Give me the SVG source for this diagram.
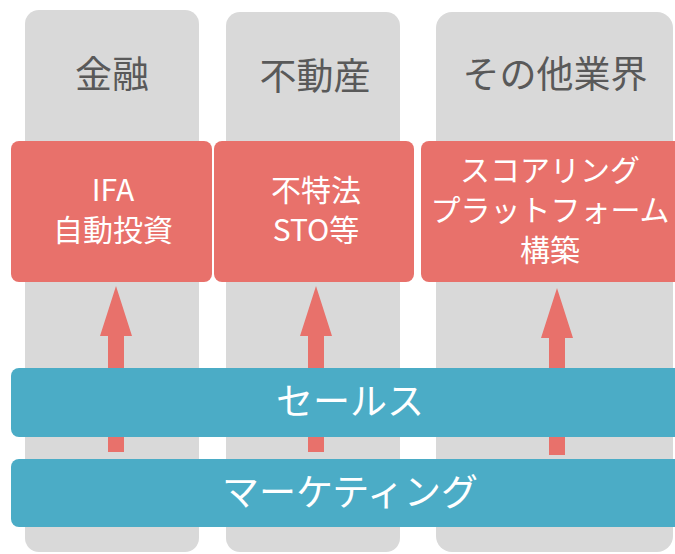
<svg xmlns="http://www.w3.org/2000/svg" width="675" height="554" viewBox="0 0 675 554">
<style>
.col{fill:#D9D9D9}
.red{fill:#E8716B}
.blue{fill:#4BACC6}
.arrow{fill:#E8716B}
.h{font-family:"Noto Sans CJK JP","Noto Sans",sans-serif;font-size:37px;fill:#595959;text-anchor:middle}
.t{font-family:"Noto Sans CJK JP","Noto Sans",sans-serif;font-size:30px;fill:#FFFFFF;text-anchor:middle}
.b{font-family:"Noto Sans CJK JP","Noto Sans",sans-serif;font-size:37px;fill:#FFFFFF;text-anchor:middle}
</style>
<rect width="675" height="554" fill="#FFFFFF"/>
<g id="col-finance"><rect class="col" x="25" y="10" width="174" height="542" rx="14"/><text class="h" x="112" y="88">金融</text></g>
<g id="col-realestate"><rect class="col" x="226" y="12" width="174" height="540" rx="14"/><text class="h" x="315" y="90">不動産</text></g>
<g id="col-other"><rect class="col" x="436" y="12" width="237" height="540" rx="16"/><text class="h" x="555" y="88">その他業界</text></g>
<g id="box-ifa"><rect class="red" x="11" y="141" width="201" height="141" rx="8"/><text class="t" x="113" y="201">IFA</text><text class="t" x="113" y="241">自動投資</text></g>
<g id="box-sto"><rect class="red" x="214" y="141" width="200" height="141" rx="8"/><text class="t" x="316" y="201">不特法</text><text class="t" x="316" y="241">STO等</text></g>
<g id="box-scoring"><rect class="red" x="421" y="141" width="270" height="141" rx="8"/><text class="t" x="550" y="181">スコアリング</text><text class="t" x="550" y="221">プラットフォーム</text><text class="t" x="550" y="261">構築</text></g>
<g id="connectors">
<path class="arrow" d="M116 286 L132 336 L124 336 L124 452 L108 452 L108 336 L100 336 Z"/>
<path class="arrow" d="M316 286 L332 336 L324 336 L324 452 L308 452 L308 336 L300 336 Z"/>
<path class="arrow" d="M557 288 L573 338 L565 338 L565 455 L549 455 L549 338 L541 338 Z"/>
</g>
<g id="bar-sales"><rect class="blue" x="11" y="368" width="680" height="69" rx="8"/><text class="b" x="350" y="415">セールス</text></g>
<g id="bar-marketing"><rect class="blue" x="11" y="459" width="680" height="68" rx="8"/><text class="b" x="350" y="506">マーケティング</text></g>
</svg>
